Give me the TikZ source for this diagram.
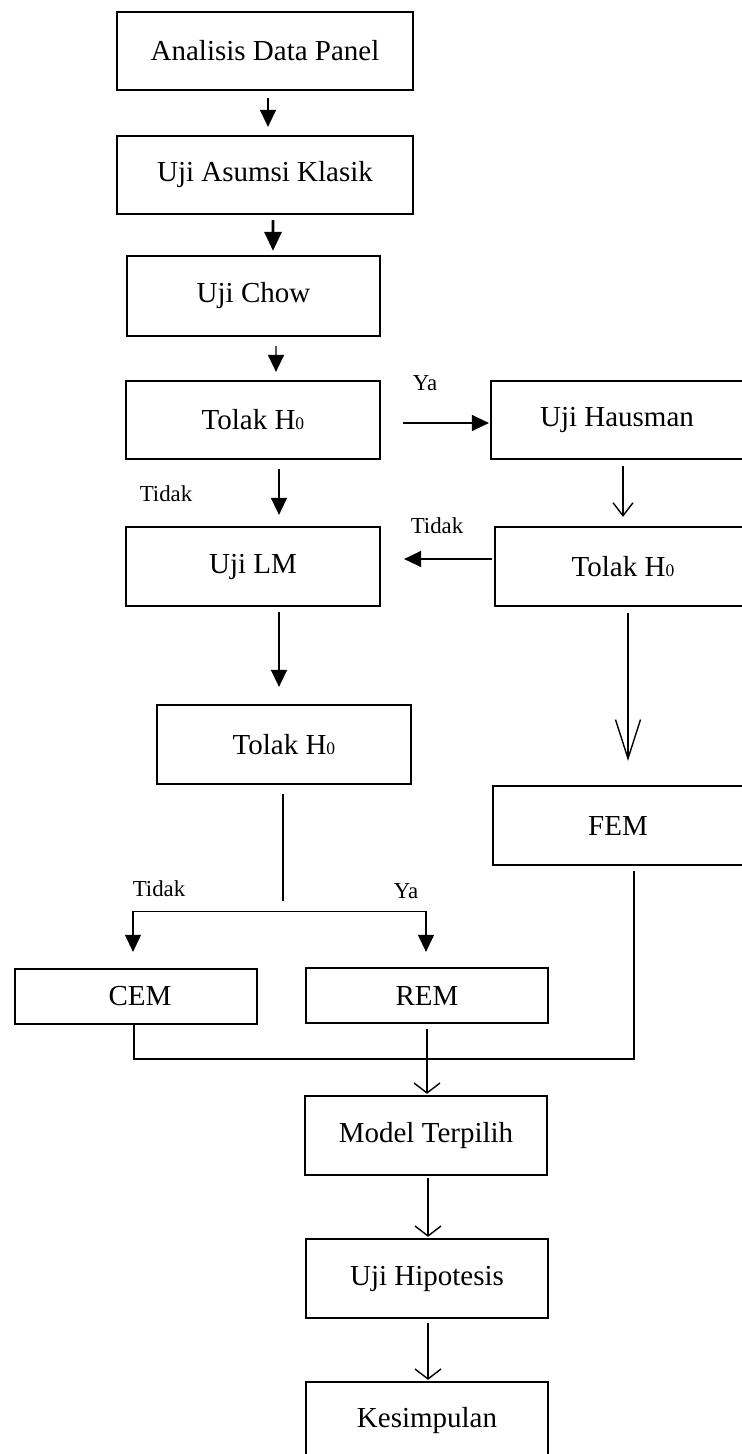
\documentclass[tikz,border=0pt]{standalone}
\usepackage{fontspec}
\setmainfont{Liberation Serif}
\usetikzlibrary{arrows.meta,calc}

\newcommand{\hnol}{H{\fontsize{10}{10}\selectfont 0}}

\begin{document}
\begin{tikzpicture}[x=0.02cm,y=-0.02cm,
    kotak/.style={draw,line width=1.3pt,inner sep=0pt,minimum width=5.08cm,minimum height=1.58cm,font=\fontsize{16.5}{20}\selectfont},
    ket/.style={inner sep=0pt,font=\fontsize{13}{15}\selectfont},
    panah/.style={line width=0.8pt,-{Triangle[length=0.34cm,width=0.32cm]}},
    panahtebal/.style={line width=1.7pt,-{Triangle[length=0.38cm,width=0.34cm]}},
    panahv/.style={line width=0.8pt,-{Straight Barb[length=0.2cm,width=0.52cm]}},
    garis/.style={line width=0.6pt}]
    \useasboundingbox (0,0) rectangle (741,1454);

    % Kotak-kotak alur
    \node[kotak,minimum width=5.92cm,minimum height=1.56cm] (adp) at (265,51) {Analisis Data Panel};
    \node[kotak,minimum width=5.92cm,minimum height=1.56cm] (uak) at (265,175) {Uji Asumsi Klasik};
    \node[kotak,minimum width=5.06cm,minimum height=1.6cm] (chow) at (253.5,296) {Uji Chow};
    \node[kotak,minimum height=1.56cm] (tolaka) at (253,420) {Tolak \hnol};
    \node[kotak,minimum width=5.04cm,minimum height=1.56cm] (hausman) at (617,420) {Uji Hausman};
    \node[kotak] (lm) at (253,566.5) {Uji LM};
    \node[kotak,minimum width=4.96cm] (tolakb) at (619,566.5) {\hspace{0.16cm}Tolak \hnol};
    \node[kotak] (tolakc) at (284,744.5) {Tolak \hnol};
    \node[kotak,minimum width=5cm] (fem) at (618,825.5) {FEM};
    \node[kotak,minimum width=4.84cm,minimum height=1.1cm] (cem) at (136,996.5) {\hspace{0.16cm}CEM};
    \node[kotak,minimum width=4.84cm,minimum height=1.1cm] (rem) at (427,995.5) {REM};
    \node[kotak,minimum width=4.84cm] (model) at (426,1135.5) {Model Terpilih};
    \node[kotak,minimum width=4.84cm] (hipo) at (427,1278.5) {Uji Hipotesis};
    \node[kotak,minimum width=4.84cm,minimum height=1.56cm] (kesim) at (427,1421) {Kesimpulan};

    % Keterangan Ya / Tidak
    \node[ket] (ya1) at (425,383) {Ya};
    \node[ket] (tidak1) at (166,494) {Tidak};
    \node[ket] (tidak2) at (437,526) {Tidak};
    \node[ket] (tidak3) at (159,889) {Tidak};
    \node[ket] (ya2) at (406,891) {Ya};

    % Panah utama
    \draw[panah] ($(adp.south)+(3,7)$) -- ($(uak.north)+(3,-8)$);
    \draw[panahtebal] ($(uak.south)+(8,5)$) -- ($(chow.north)+(19.5,-4)$);
    \draw[panah] ($(chow.south)+(22.5,9)$) -- ($(tolaka.north)+(23,-8)$);
    \draw[panah] ($(tolaka.east)+(22,3)$) -- ($(hausman.west)+(-1,3)$);
    \draw[panah] ($(tolaka.south)+(26,9)$) -- ($(lm.north)+(26,-11)$);
    \draw[panahv,-{Straight Barb[length=0.26cm,width=0.4cm]}] ($(hausman.south)+(6,6)$) -- ($(tolakb.north)+(4,-9)$);
    \draw[panah] ($(tolakb.west)+(-2,-7.5)$) -- ($(lm.east)+(23,-7.5)$);
    \draw[panah] ($(lm.south)+(26,5)$) -- ($(tolakc.north)+(-5,-17)$);
    \draw[panahv,-{Straight Barb[length=0.78cm,width=0.5cm]}] ($(tolakb.south)+(9,6)$) -- ($(fem.north)+(10,-24)$);

    % Cabang ke CEM dan REM
    \coordinate (ujung) at ($(tolakc.south)+(-1,116)$);
    \coordinate (bagi) at ($(tolakc.south)+(-1,126)$);
    \draw[garis] ($(tolakc.south)+(-1,9)$) -- (ujung);
    \draw[panah,line width=0.6pt] (bagi) -| ($(cem.north)+(-3,-16)$);
    \draw[panah,line width=0.6pt] (bagi) -| ($(rem.north)+(-1,-15)$);

    % Gabungan CEM, REM, FEM
    \coordinate (gabung) at (427,1059);
    \draw[garis] ($(cem.south)+(-2,0)$) |- (gabung) -| ($(fem.south)+(16,5)$);
    \draw[panahv] ($(rem.south)+(0,5)$) -- ($(model.north)+(1,-1)$);
    \draw[panahv] ($(model.south)+(2,2)$) -- ($(hipo.north)+(1,-1)$);
    \draw[panahv] ($(hipo.south)+(1,4)$) -- ($(kesim.north)+(1,-1)$);
\end{tikzpicture}
\end{document}
